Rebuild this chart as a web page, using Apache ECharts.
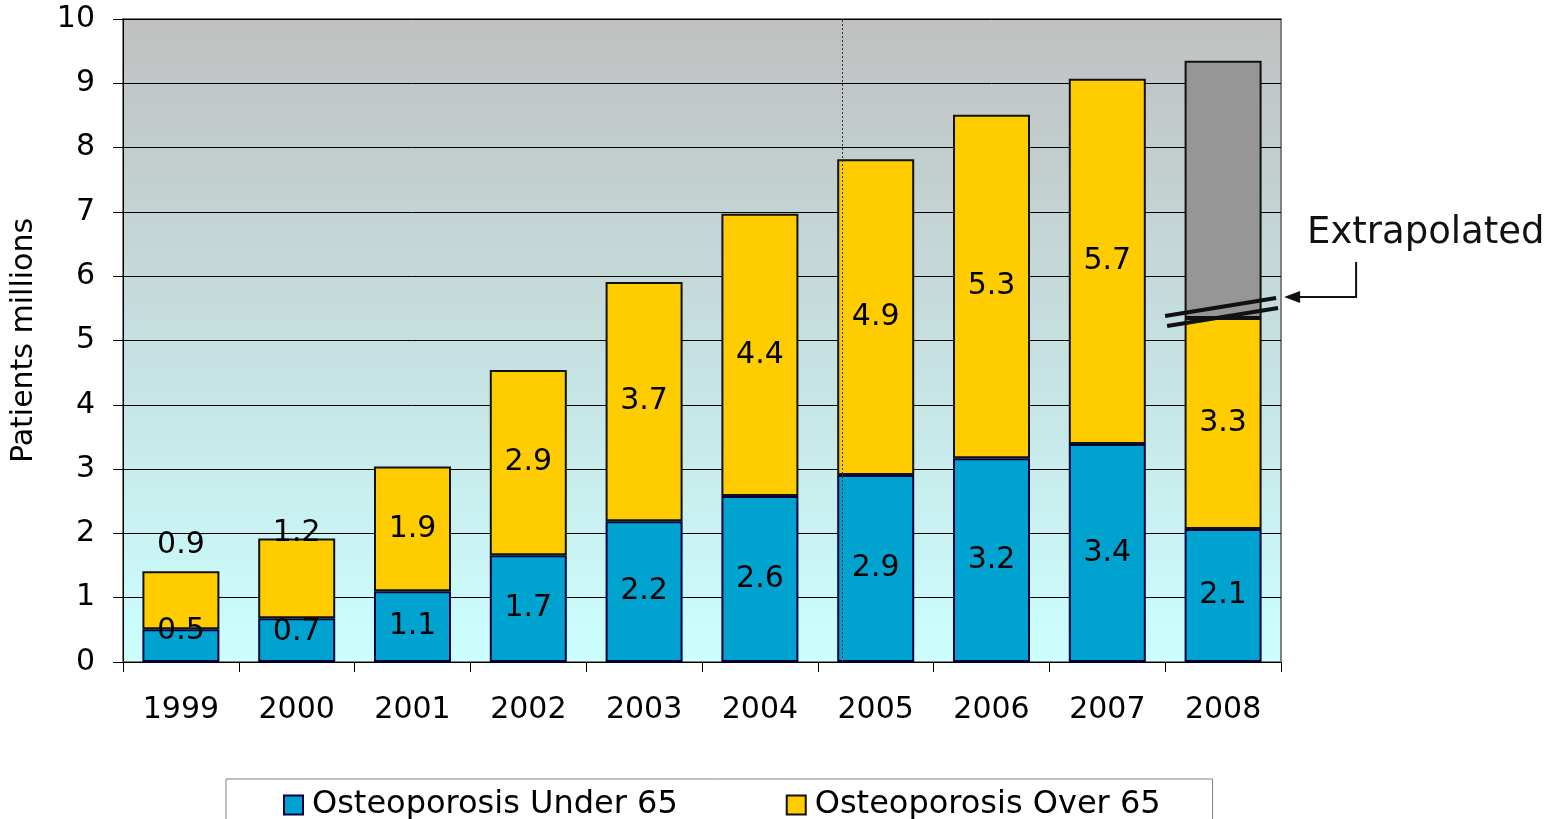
<!DOCTYPE html>
<html>
<head>
<meta charset="utf-8">
<script src="https://cdn.jsdelivr.net/npm/echarts@6/dist/echarts.min.js"></script>
<style>
html,body{margin:0;padding:0;background:#fff;}
#main{width:1561px;height:819px;}
</style>
</head>
<body>
<div id="main"></div>
<script>
var years = ['1999','2000','2001','2002','2003','2004','2005','2006','2007','2008'];
var under65 = [0.51, 0.68, 1.10, 1.66, 2.19, 2.58, 2.91, 3.17, 3.39, 2.07];
var over65 = [0.90, 1.24, 1.94, 2.88, 3.72, 4.39, 4.91, 5.34, 5.68, 3.28];
// grey extrapolated part, only on 2008
var extrapolated = [null, null, null, null, null, null, null, null, null, 4.0];
var yTicks = [0, 10, 1];
var dividerX = 6.21; // dotted vertical line, in category units

var font = 'DejaVu Sans';

// small labels in the first two bars sit higher than the segment centre
var underOffset = {0: -14, 1: -8};
var overOffset = {0: -55, 1: -45};

function withOffsets(vals, offs){
	var out = [];
	for(var i=0;i<vals.length;i++){
		if(offs[i] !== undefined){
			out.push({value: vals[i], label: {offset: [0, offs[i]]}});
		} else {
			out.push(vals[i]);
		}
	}
	return out;
}

var myChart = echarts.init(document.getElementById('main'));

var labelStyle = {
	show: true,
	position: 'inside',
	color: '#000',
	fontFamily: font,
	fontSize: 30,
	formatter: function(p){ return p.value.toFixed(1); }
};

option = {
	animation: false,
	backgroundColor: '#fff',
	grid: {
		left: 123, right: 280, top: 19, bottom: 157,
		show: true,
		borderColor: '#808080',
		borderWidth: 2,
		backgroundColor: new echarts.graphic.LinearGradient(0, 0, 0, 1, [
			{offset: 0, color: '#c0c0c0'},
			{offset: 1, color: '#ccffff'}
		])
	},
	legend: {
		data: ['Osteoporosis Under 65', 'Osteoporosis Over 65'],
		icon: 'rect',
		left: 226,
		top: 779,
		padding: [10, 52, 30, 57],
		itemGap: 108,
		itemWidth: 19,
		itemHeight: 19,
		borderColor: '#808080',
		borderWidth: 1,
		textStyle: {fontFamily: font, fontSize: 32, color: '#000', padding: [0, 0, 0, 4]}
	},
	xAxis: [
		{
			type: 'category',
			data: years,
			axisLine: {lineStyle: {color: '#000', width: 1}},
			axisTick: {show: true, length: 10, lineStyle: {color: '#000'}},
			axisLabel: {color: '#000', fontFamily: font, fontSize: 30, margin: 33}
		},
		{
			type: 'value',
			min: 0, max: 10,
			show: false
		}
	],
	yAxis: {
		type: 'value',
		min: yTicks[0], max: yTicks[1], interval: yTicks[2],
		name: 'Patients millions',
		nameLocation: 'middle',
		nameGap: 84,
		nameTextStyle: {color: '#000', fontFamily: font, fontSize: 30},
		axisLine: {show: true, lineStyle: {color: '#000'}},
		axisTick: {show: true, length: 10, lineStyle: {color: '#000'}},
		axisLabel: {color: '#000', fontFamily: font, fontSize: 30, margin: 28},
		splitLine: {lineStyle: {color: '#000', width: 1}}
	},
	series: [
		{
			name: 'Osteoporosis Under 65',
			type: 'bar',
			stack: 'total',
			barWidth: 77,
			data: withOffsets(under65, underOffset),
			itemStyle: {color: '#00a3cf', borderColor: '#000040', borderWidth: 2},
			label: labelStyle
		},
		{
			name: 'Osteoporosis Over 65',
			type: 'bar',
			stack: 'total',
			barWidth: 77,
			data: withOffsets(over65, overOffset),
			itemStyle: {color: '#ffcc00', borderColor: '#111', borderWidth: 2},
			label: labelStyle
		},
		{
			name: 'Extrapolated',
			type: 'bar',
			stack: 'total',
			barWidth: 77,
			data: extrapolated,
			itemStyle: {color: '#969696', borderColor: '#111', borderWidth: 2}
		},
		{
			type: 'line',
			xAxisIndex: 1,
			data: [],
			markLine: {
				silent: true,
				symbol: 'none',
				label: {show: false},
				lineStyle: {color: '#333', type: [2, 2], width: 1},
				data: [{xAxis: dividerX}]
			}
		}
	]
};

myChart.setOption(option);

// annotation: break marks on the 2008 bar and the "Extrapolated" call-out
var last = years.length - 1;
var p1 = myChart.convertToPixel({xAxisIndex: 0, yAxisIndex: 0}, [last, under65[last] + over65[last]]);
var cx = p1[0], cy = p1[1];
myChart.setOption({
	graphic: [
		{type: 'line', z: 100, shape: {x1: cx - 58, y1: cy - 2, x2: cx + 53, y2: cy - 20}, style: {stroke: '#111', lineWidth: 4}},
		{type: 'line', z: 100, shape: {x1: cx - 56, y1: cy + 8, x2: cx + 55, y2: cy - 10}, style: {stroke: '#111', lineWidth: 4}},
		{type: 'polyline', z: 100, shape: {points: [[cx + 133, cy - 56], [cx + 133, cy - 21], [cx + 75, cy - 21]]}, style: {stroke: '#111', lineWidth: 2, fill: null}},
		{type: 'polygon', z: 100, shape: {points: [[cx + 61, cy - 21], [cx + 77, cy - 27], [cx + 77, cy - 15]]}, style: {fill: '#111'}},
		{type: 'text', z: 100, left: 1307, top: 215, style: {text: 'Extrapolated', fontFamily: font, fontSize: 37, fill: '#111'}}
	]
});
</script>
</body>
</html>
